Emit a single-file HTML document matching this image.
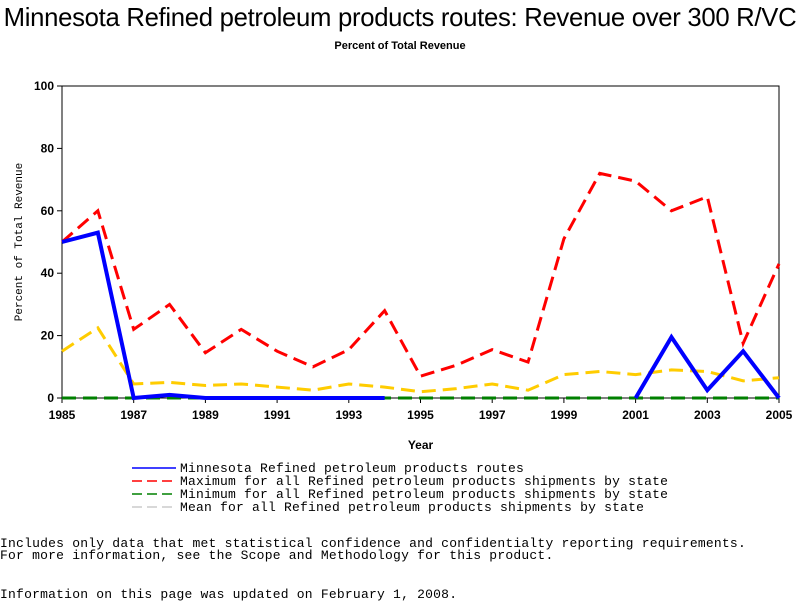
<!DOCTYPE html>
<html><head><meta charset="utf-8"><style>
body{margin:0;background:#fff;width:800px;height:600px;overflow:hidden;position:relative;font-family:"Liberation Sans",sans-serif}
.t{position:absolute;white-space:nowrap}
.m{font-family:"Liberation Mono",monospace;font-size:13px;letter-spacing:0.22px}
</style></head><body>
<div class="t" style="left:0;top:4px;width:800px;text-align:center;font-size:25.7px;letter-spacing:-0.3px">Minnesota Refined petroleum products routes: Revenue over 300 R/VC</div>
<div class="t" style="left:0;top:40px;width:800px;text-align:center;font-size:11px;font-weight:bold">Percent of Total Revenue</div>
<svg id="c" width="800" height="600" style="position:absolute;left:0;top:0"></svg>
<div class="t m" style="left:0;top:536px">Includes only data that met statistical confidence and confidentialty reporting requirements.</div>
<div class="t m" style="left:0;top:548px">For more information, see the Scope and Methodology for this product.</div>
<div class="t m" style="left:0;top:587px">Information on this page was updated on February 1, 2008.</div>
<script>
const years=[1985,1986,1987,1988,1989,1990,1991,1992,1993,1994,1995,1996,1997,1998,1999,2000,2001,2002,2003,2004,2005];
const mnValues=[50,53,0,1,0,0,0,0,0,0,null,null,null,null,null,null,0,19.5,2.5,15,0];
const maxValues=[50,60,22,30,14.5,22,15,10,15.5,28,7,10.5,15.5,11.5,51,72,69.5,60,64.5,17.5,43];
const minValues=[0,0,0,0,0,0,0,0,0,0,0,0,0,0,0,0,0,0,0,0,0];
const meanValues=[15,22.5,4.5,5,4,4.5,3.5,2.5,4.5,3.5,2,3,4.5,2.5,7.5,8.5,7.5,9,8.5,5.5,6.5];
const yTicks=[0,20,40,60,80,100];
const xTicks=[1985,1987,1989,1991,1993,1995,1997,1999,2001,2003,2005];
const NS='http://www.w3.org/2000/svg';
const svg=document.getElementById('c');
const L=62,R=779,T=86,B=398;
const x=v=>L+(v-1985)/(2005-1985)*(R-L);
const y=v=>B-v/100*(B-T);
function mk(tag,a){const e=document.createElementNS(NS,tag);for(const k in a)e.setAttribute(k,a[k]);svg.appendChild(e);return e;}
const frame=mk('rect',{x:L,y:T,width:R-L,height:B-T,fill:'none',stroke:'#000','stroke-width':1});


yTicks.forEach(v=>{
 const tk=mk('line',{x1:L-5,x2:L,y1:y(v),y2:y(v),stroke:'#000'});
 
 
 const t=mk('text',{x:L-8,y:y(v)+4,'text-anchor':'end','font-size':12,'font-weight':'bold','font-family':'Liberation Sans, sans-serif'});
 t.textContent=v;
 
 
});
xTicks.forEach(v=>{
 const tk=mk('line',{x1:x(v),x2:x(v),y1:B,y2:B+5,stroke:'#000'});
 
 
 const t=mk('text',{x:x(v),y:B+21,'text-anchor':'middle','font-size':12,'font-weight':'bold','font-family':'Liberation Sans, sans-serif'});
 t.textContent=v;
 
 
});
const xt=mk('text',{x:(L+R)/2,y:449,'text-anchor':'middle','font-size':12,'font-weight':'bold','font-family':'Liberation Sans, sans-serif'});
xt.textContent='Year';


const yt=mk('text',{x:22,y:(T+B)/2,'text-anchor':'middle','font-size':11,'font-family':'Liberation Mono, monospace',transform:'rotate(-90 22 '+((T+B)/2)+')'});
yt.textContent='Percent of Total Revenue';


function series(vals,color,w,dash,name){
 let d='',pen=false;
 vals.forEach((v,i)=>{if(v===null){pen=false;return;}d+=(pen?'L':'M')+x(years[i])+' '+y(v)+' ';pen=true;});
 const p=mk('path',{d:d,fill:'none',stroke:color,'stroke-width':w,'stroke-dasharray':dash});
 
 
}
series(meanValues,'#ffcc00',3,'14 7','mean-line');
series(maxValues,'#ff0000',3,'14 7','max-line');
series(minValues,'#008000',3,'14 7','min-line');
series(mnValues,'#0000ff',4,'none','minnesota-line');
const leg=[['#0000ff','none','Minnesota Refined petroleum products routes'],['#ff0000','10 5','Maximum for all Refined petroleum products shipments by state'],['#008000','10 5','Minimum for all Refined petroleum products shipments by state'],['#cccccc','10 5','Mean for all Refined petroleum products shipments by state']];
leg.forEach((l,i)=>{
 const yy=468+i*13;
 const ln=mk('line',{x1:132,x2:176,y1:yy,y2:yy,stroke:l[0],'stroke-width':1.5,'stroke-dasharray':l[1]});
 
 
 const t=mk('text',{x:180,y:yy+4,'font-size':13,'letter-spacing':0.2,'font-family':'Liberation Mono, monospace'});
 t.textContent=l[2];
 
 
});
</script>
</body></html>
